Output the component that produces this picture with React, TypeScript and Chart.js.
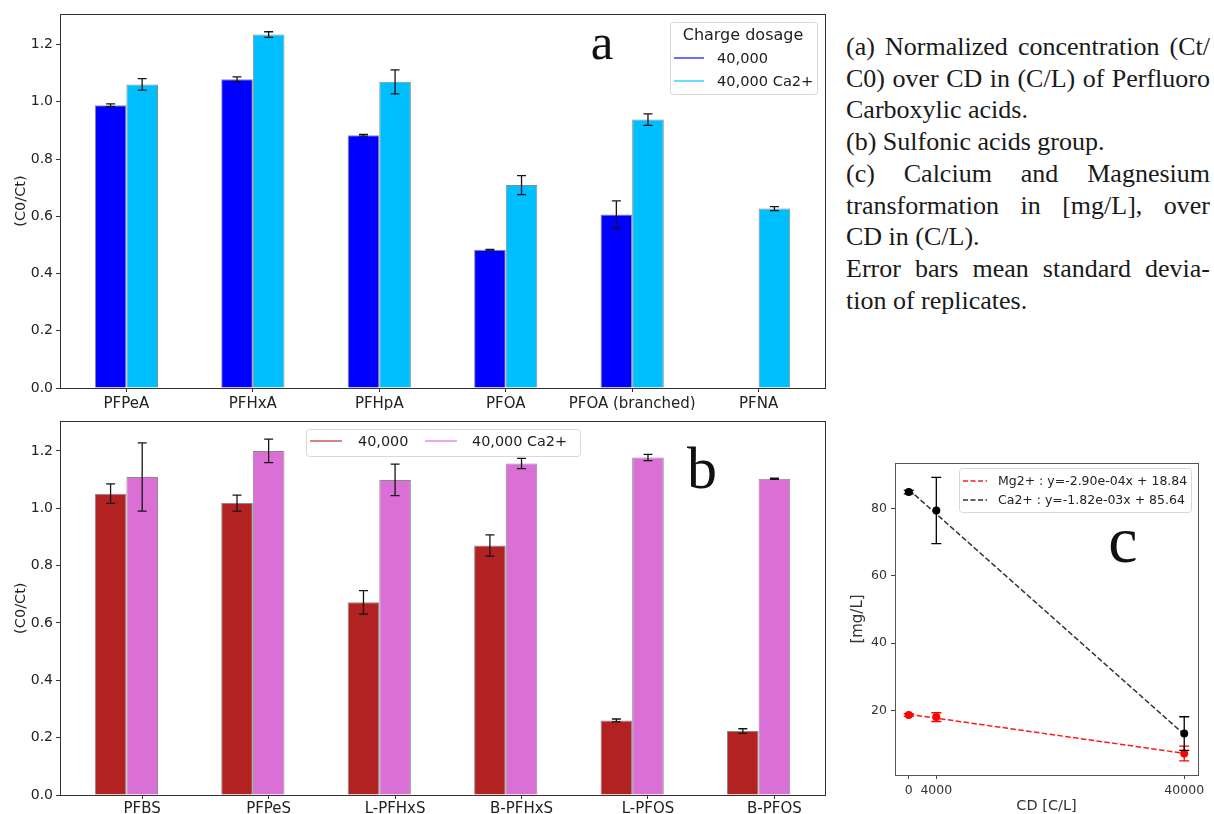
import React, { useEffect, useRef } from 'react';
import { Chart, registerables } from 'chart.js';

Chart.register(...registerables);

// ---------- data ----------
const acidLabels = ['PFPeA', 'PFHxA', 'PFHpA', 'PFOA', 'PFOA (branched)', 'PFNA'];
const acid40k = [0.988, 1.079, 0.883, 0.483, 0.606, 0];
const acid40kErr = [0.005, 0.008, 0.003, 0.001, 0.048, 0];
const acidCa = [1.061, 1.235, 1.07, 0.709, 0.938, 0.627];
const acidCaErr = [0.02, 0.01, 0.042, 0.033, 0.02, 0.007];

const sulfLabels = ['PFBS', 'PFPeS', 'L-PFHxS', 'B-PFHxS', 'L-PFOS', 'B-PFOS'];
const sulf40k = [1.051, 1.018, 0.672, 0.87, 0.26, 0.223];
const sulf40kErr = [0.034, 0.028, 0.041, 0.037, 0.005, 0.008];
const sulfCa = [1.109, 1.2, 1.099, 1.156, 1.177, 1.103];
const sulfCaErr = [0.119, 0.041, 0.055, 0.018, 0.011, 0.002];

const barTicks = [0, 0.2, 0.4, 0.6, 0.8, 1.0, 1.2];

const cdValues = [0, 4000, 40000];
const mgValues = [18.6, 18.0, 7.2];
const mgErr = [0.4, 1.3, 2.2];
const caValues = [84.85, 79.4, 13.1];
const caErr = [0.5, 9.85, 5.0];
const fitX = [0, 40000];
const mgFit = [18.84, 7.24];
const caFit = [85.64, 12.84];
const cdTicks = [0, 4000, 40000];
const mgTicks = [20, 40, 60, 80];

const FONT = '"DejaVu Sans", sans-serif';
const SERIF = '"Liberation Serif", "DejaVu Serif", serif';

// ---------- plugins ----------
const errorBarPlugin = {
  id: 'errorBars',
  afterDatasetsDraw(chart: any, _a: any, opts: any) {
    const ctx = chart.ctx;
    const yScale = chart.scales.y;
    chart.data.datasets.forEach((ds: any, i: number) => {
      const errs = ds.errors;
      if (!errs) return;
      const meta = chart.getDatasetMeta(i);
      ctx.save();
      ctx.strokeStyle = ds.errorColor || '#151515';
      ctx.lineWidth = 1.3;
      const c = opts.cap ?? 4.5;
      meta.data.forEach((el: any, j: number) => {
        const e = errs[j];
        if (!e) return;
        const v = ds.data[j].y;
        const x = el.x;
        const y1 = yScale.getPixelForValue(v - e);
        const y2 = yScale.getPixelForValue(v + e);
        ctx.beginPath();
        ctx.moveTo(x, y1);
        ctx.lineTo(x, y2);
        ctx.moveTo(x - c, y1);
        ctx.lineTo(x + c, y1);
        ctx.moveTo(x - c, y2);
        ctx.lineTo(x + c, y2);
        ctx.stroke();
      });
      ctx.restore();
    });
  },
};

const framePlugin = {
  id: 'frame',
  afterDraw(chart: any, _a: any, opts: any) {
    const { left, top, right, bottom } = chart.chartArea;
    const ctx = chart.ctx;
    ctx.save();
    ctx.strokeStyle = opts.color || '#333';
    ctx.lineWidth = 1;
    ctx.strokeRect(Math.round(left) + 0.5, Math.round(top) + 0.5, Math.round(right - left), Math.round(bottom - top));
    ctx.restore();
  },
};

const legendBoxPlugin = {
  id: 'legendBox',
  afterDraw(chart: any, _a: any, opts: any) {
    if (!opts || !opts.box) return;
    const ctx = chart.ctx;
    const [bx, by, bw, bh] = opts.box;
    ctx.save();
    ctx.fillStyle = 'rgba(255,255,255,0.85)';
    ctx.strokeStyle = '#d8d8d8';
    ctx.lineWidth = 1;
    ctx.beginPath();
    (ctx as any).roundRect(bx + 0.5, by + 0.5, bw, bh, 3);
    ctx.fill();
    ctx.stroke();
    ctx.fillStyle = '#222';
    ctx.textBaseline = 'middle';
    if (opts.title) {
      ctx.font = `${opts.titleSize}px ${FONT}`;
      ctx.textAlign = 'center';
      ctx.fillText(opts.title, opts.titleX, opts.titleY);
    }
    ctx.textAlign = 'left';
    ctx.font = `${opts.size}px ${FONT}`;
    opts.items.forEach((it: any) => {
      ctx.beginPath();
      ctx.strokeStyle = it.color;
      ctx.lineWidth = 1.6;
      ctx.setLineDash(it.dash || []);
      ctx.moveTo(it.x1, it.y);
      ctx.lineTo(it.x2, it.y);
      ctx.stroke();
      ctx.setLineDash([]);
      ctx.fillStyle = '#222';
      ctx.fillText(it.text, it.tx, it.y + 1);
    });
    ctx.restore();
  },
};

// ---------- configs ----------
function barConfig(
  labels: string[],
  s1: number[], e1: number[], c1: string,
  s2: number[], e2: number[], c2: string,
  yMax: number, tickShift: number, padTop: number, xHeight: number, labelPad: number, legend: any
): any {
  const mk = (vals: number[], errs: number[], color: string, label: string) => ({
    label,
    data: vals.map((v, i) => ({ x: i, y: v })),
    errors: errs,
    backgroundColor: color,
    borderColor: '#8a8a8a',
    borderWidth: 1,
    categoryPercentage: 0.5,
    barPercentage: 1.0,
  });
  return {
    type: 'bar',
    data: {
      datasets: [mk(s1, e1, c1, '40,000'), mk(s2, e2, c2, '40,000 Ca2+')],
    },
    options: {
      animation: false,
      responsive: false,
      maintainAspectRatio: false,
      layout: { padding: { left: 0, right: 15, top: padTop, bottom: 0 } },
      scales: {
        x: {
          type: 'linear',
          min: -0.525,
          max: 5.525,
          offset: false,
          grid: { display: true, drawOnChartArea: false, tickLength: 4, color: '#333', offset: false },
          border: { display: true, color: '#333' },
          afterBuildTicks: (s: any) => {
            s.ticks = labels.map((_, i) => ({ value: i + tickShift }));
          },
          afterFit: (s: any) => {
            s.height = xHeight;
          },
          ticks: {
            autoSkip: false,
            maxRotation: 0,
            padding: labelPad,
            color: '#222',
            font: { family: FONT, size: 15 },
            callback: (_v: any, i: number) => labels[i],
          },
        },
        y: {
          type: 'linear',
          min: 0,
          max: yMax,
          grid: { display: true, drawOnChartArea: false, tickLength: 4, color: '#333' },
          border: { display: true, color: '#333' },
          afterBuildTicks: (s: any) => {
            s.ticks = barTicks.map((v) => ({ value: v }));
          },
          afterFit: (s: any) => {
            s.width = 60;
          },
          ticks: {
            padding: 3,
            color: '#222',
            font: { family: FONT, size: 14 },
            callback: (v: any) => Number(v).toFixed(1),
          },
          title: {
            display: true,
            text: '(C0/Ct)',
            color: '#222',
            font: { family: FONT, size: 14.5 },
            padding: { top: 13, bottom: 0 },
          },
        },
      },
      plugins: {
        legend: { display: false },
        tooltip: { enabled: false },
        errorBars: { cap: 4.5 },
        frame: { color: '#333' },
        legendBox: legend,
      },
    },
    plugins: [errorBarPlugin, framePlugin, legendBoxPlugin],
  };
}

function ionConfig(): any {
  const pts = (vals: number[], errs: number[], color: string, label: string) => ({
    label,
    data: cdValues.map((x, i) => ({ x, y: vals[i] })),
    errors: errs,
    errorColor: color,
    showLine: false,
    pointRadius: 4,
    pointBackgroundColor: color,
    pointBorderColor: color,
    pointBorderWidth: 0,
  });
  const fit = (vals: number[], color: string, label: string) => ({
    label,
    data: fitX.map((x, i) => ({ x, y: vals[i] })),
    showLine: true,
    borderColor: color,
    borderWidth: 1.5,
    borderDash: [5.5, 2.4],
    pointRadius: 0,
    fill: false,
  });
  return {
    type: 'scatter',
    data: {
      datasets: [
        pts(mgValues, mgErr, '#ff0000', 'Mg2+'),
        pts(caValues, caErr, '#000000', 'Ca2+'),
        fit(mgFit, 'rgba(255,0,0,0.9)', 'Mg2+ fit'),
        fit(caFit, '#333333', 'Ca2+ fit'),
      ],
    },
    options: {
      animation: false,
      responsive: false,
      maintainAspectRatio: false,
      layout: { padding: { left: 0, right: 16, top: 23, bottom: 0 } },
      scales: {
        x: {
          type: 'linear',
          min: -2000,
          max: 42000,
          grid: { display: true, drawOnChartArea: false, tickLength: 4, color: '#444' },
          border: { display: true, color: '#555' },
          afterBuildTicks: (s: any) => {
            s.ticks = cdTicks.map((v) => ({ value: v }));
          },
          afterFit: (s: any) => {
            s.height = 39;
          },
          ticks: {
            autoSkip: false,
            maxRotation: 0,
            padding: 4,
            color: '#333',
            font: { family: FONT, size: 12.5 },
            callback: (v: any) => String(v),
          },
          title: {
            display: true,
            text: 'CD [C/L]',
            color: '#333',
            font: { family: FONT, size: 14.5 },
            padding: { top: 0, bottom: -1 },
          },
        },
        y: {
          type: 'linear',
          min: 0.8,
          max: 93.5,
          grid: { display: true, drawOnChartArea: false, tickLength: 4, color: '#444' },
          border: { display: true, color: '#555' },
          afterBuildTicks: (s: any) => {
            s.ticks = mgTicks.map((v) => ({ value: v }));
          },
          afterFit: (s: any) => {
            s.width = 60;
          },
          ticks: {
            padding: 4,
            color: '#333',
            font: { family: FONT, size: 12.5 },
            callback: (v: any) => String(v),
          },
          title: {
            display: true,
            text: '[mg/L]',
            color: '#333',
            font: { family: FONT, size: 15 },
            padding: { top: 14, bottom: 0 },
          },
        },
      },
      plugins: {
        legend: { display: false },
        tooltip: { enabled: false },
        errorBars: { cap: 5 },
        frame: { color: '#555' },
        legendBox: {
          box: [124, 28, 232, 44],
          size: 12.5,
          items: [
            { color: 'rgba(255,0,0,0.9)', dash: [5, 2.5], x1: 128, x2: 152, y: 41, tx: 163, text: 'Mg2+ : y=-2.90e-04x + 18.84' },
            { color: '#333333', dash: [5, 2.5], x1: 128, x2: 152, y: 60, tx: 163, text: 'Ca2+ : y=-1.82e-03x + 85.64' },
          ],
        },
      },
    },
    plugins: [errorBarPlugin, framePlugin, legendBoxPlugin],
  };
}

function useChart(ref: React.RefObject<HTMLCanvasElement>, make: () => any) {
  useEffect(() => {
    if (!ref.current) return;
    const chart = new Chart(ref.current, make());
    return () => chart.destroy();
  }, []);
}

const captionLines: { text: string; justify: boolean }[] = [
  { text: '(a) Normalized concentration (Ct/', justify: true },
  { text: 'C0) over CD in (C/L) of Perfluoro', justify: true },
  { text: 'Carboxylic acids.', justify: false },
  { text: '(b) Sulfonic acids group.', justify: false },
  { text: '(c) Calcium and Magnesium', justify: true },
  { text: 'transformation in [mg/L], over', justify: true },
  { text: 'CD in (C/L).', justify: false },
  { text: 'Error bars mean standard devia-', justify: true },
  { text: 'tion of replicates.', justify: false },
];

export default function App() {
  const aRef = useRef<HTMLCanvasElement>(null);
  const bRef = useRef<HTMLCanvasElement>(null);
  const cRef = useRef<HTMLCanvasElement>(null);

  useChart(aRef, () =>
    barConfig(acidLabels, acid40k, acid40kErr, '#0000ff', acidCa, acidCaErr, '#00bfff', 1.307, 0, 14, 22, 3, {
      box: [670, 22, 147, 72],
      title: 'Charge dosage',
      titleSize: 16,
      titleX: 743,
      titleY: 36,
      size: 14.6,
      items: [
        { color: 'rgba(40,40,255,0.85)', x1: 674, x2: 704, y: 58, tx: 717, text: '40,000' },
        { color: 'rgba(40,200,255,0.85)', x1: 674, x2: 704, y: 81, tx: 717, text: '40,000 Ca2+' },
      ],
    })
  );
  useChart(bRef, () =>
    barConfig(sulfLabels, sulf40k, sulf40kErr, '#b22222', sulfCa, sulfCaErr, '#da70d6', 1.303, 0.125, 11, 19, 1, {
      box: [306, 19, 274, 27],
      size: 14.4,
      items: [
        { color: 'rgba(200,70,70,0.85)', x1: 310, x2: 342, y: 31, tx: 358, text: '40,000' },
        { color: 'rgba(225,130,225,0.85)', x1: 425, x2: 457, y: 31, tx: 472, text: '40,000 Ca2+' },
      ],
    })
  );
  useChart(cRef, ionConfig);

  const letter = (ch: string, size: number, cx: number, top: number) => (
    <div
      style={{
        position: 'absolute',
        left: cx,
        top,
        transform: 'translateX(-50%)',
        fontFamily: SERIF,
        fontSize: size,
        lineHeight: 1,
        color: '#111',
      }}
    >
      {ch}
    </div>
  );

  return (
    <div
      style={{
        position: 'absolute',
        left: 0,
        top: 0,
        width: 1214,
        height: 814,
        background: '#fff',
        overflow: 'hidden',
      }}
    >
      <canvas ref={aRef} width={840} height={410} style={{ position: 'absolute', left: 0, top: 0, width: 840, height: 410 }} />
      <canvas ref={bRef} width={840} height={404} style={{ position: 'absolute', left: 0, top: 410, width: 840, height: 404 }} />
      <canvas ref={cRef} width={379} height={374} style={{ position: 'absolute', left: 835, top: 440, width: 379, height: 374 }} />
      {letter('a', 51, 602, 17)}
      {letter('b', 60, 702, 438)}
      {letter('c', 66, 1123, 507)}
      <div
        style={{
          position: 'absolute',
          left: 846,
          top: 31,
          width: 364,
          fontFamily: SERIF,
          fontSize: 26,
          lineHeight: '31.7px',
          color: '#1a1a1a',
        }}
      >
        {captionLines.map((l, i) => (
          <div
            key={i}
            style={{
              textAlign: l.justify ? 'justify' : 'left',
              textAlignLast: l.justify ? 'justify' : 'left',
              whiteSpace: 'nowrap',
            }}
          >
            {l.text}
          </div>
        ))}
      </div>
    </div>
  );
}
